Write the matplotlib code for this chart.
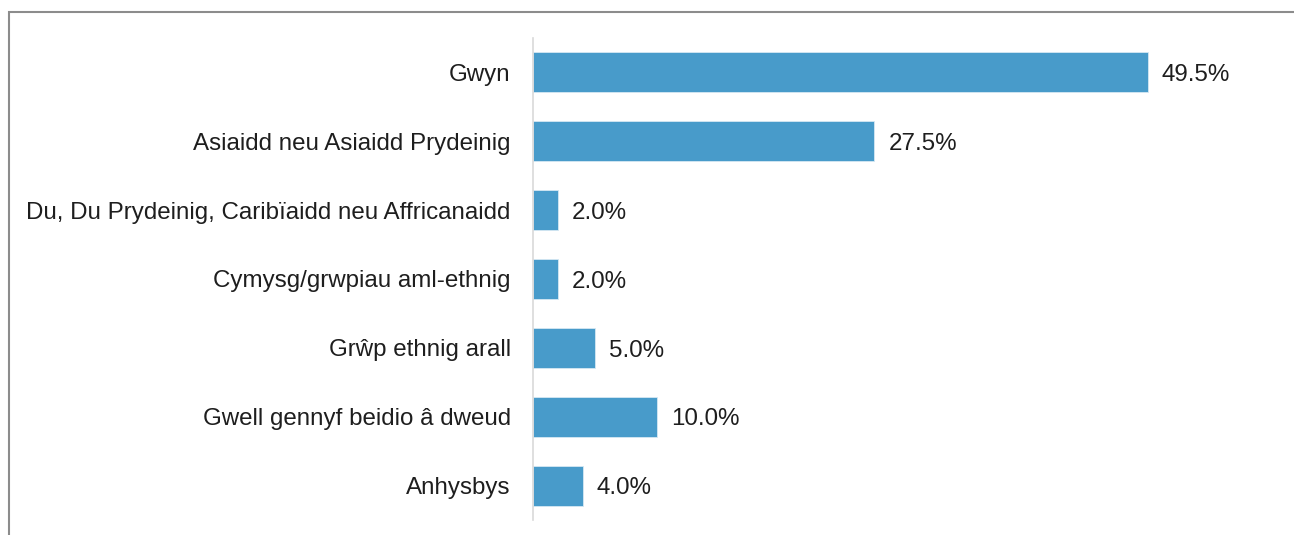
import matplotlib.pyplot as plt
from matplotlib.patches import Rectangle

# Data
categories = [
    'Gwyn',
    'Asiaidd neu Asiaidd Prydeinig',
    'Du, Du Prydeinig, Caribïaidd neu Affricanaidd',
    'Cymysg/grwpiau aml-ethnig',
    'Grŵp ethnig arall',
    'Gwell gennyf beidio â dweud',
    'Anhysbys',
]
values = [49.5, 27.5, 2.0, 2.0, 5.0, 10.0, 4.0]

plt.rcParams['font.family'] = ['Liberation Sans', 'DejaVu Sans']

W, H = 1294, 535
fig = plt.figure(figsize=(W / 100, H / 100), dpi=100)

# axes placed in pixel terms
left, right = 533, 1278
top, bottom = 38, 520
ax = fig.add_axes([left / W, (H - bottom) / H, (right - left) / W, (bottom - top) / H])

y = range(len(categories))
ax.barh(y, values, height=0.58, color='#489bca', edgecolor='#d6e8f3', linewidth=0.6)

ax.set_xlim(0, 60)
ax.set_ylim(len(categories) - 0.5, -0.5)
ax.set_yticks(list(y))
ax.set_yticklabels(categories, fontsize=17.4, color='#1e1e1e')
ax.set_xticks([])
ax.tick_params(axis='y', length=0, pad=16)

for s in ['top', 'right', 'bottom']:
    ax.spines[s].set_visible(False)
ax.spines['left'].set_color('#d9d9d9')
ax.spines['left'].set_linewidth(1.2)

for i, v in enumerate(values):
    ax.annotate(f'{v:.1f}%', xy=(v, i), xytext=(10, -2), textcoords='offset points',
                va='center', ha='left', fontsize=17.4, color='#1e1e1e')

# outer frame (clipped at right and bottom)
fig.patches.append(Rectangle((8.5 / W, -0.1), 1.2, 1 - 11.5 / H + 0.1,
                             transform=fig.transFigure, fill=False,
                             edgecolor='#8c8c8c', linewidth=1.5))

fig.savefig('out.png', dpi=100)
